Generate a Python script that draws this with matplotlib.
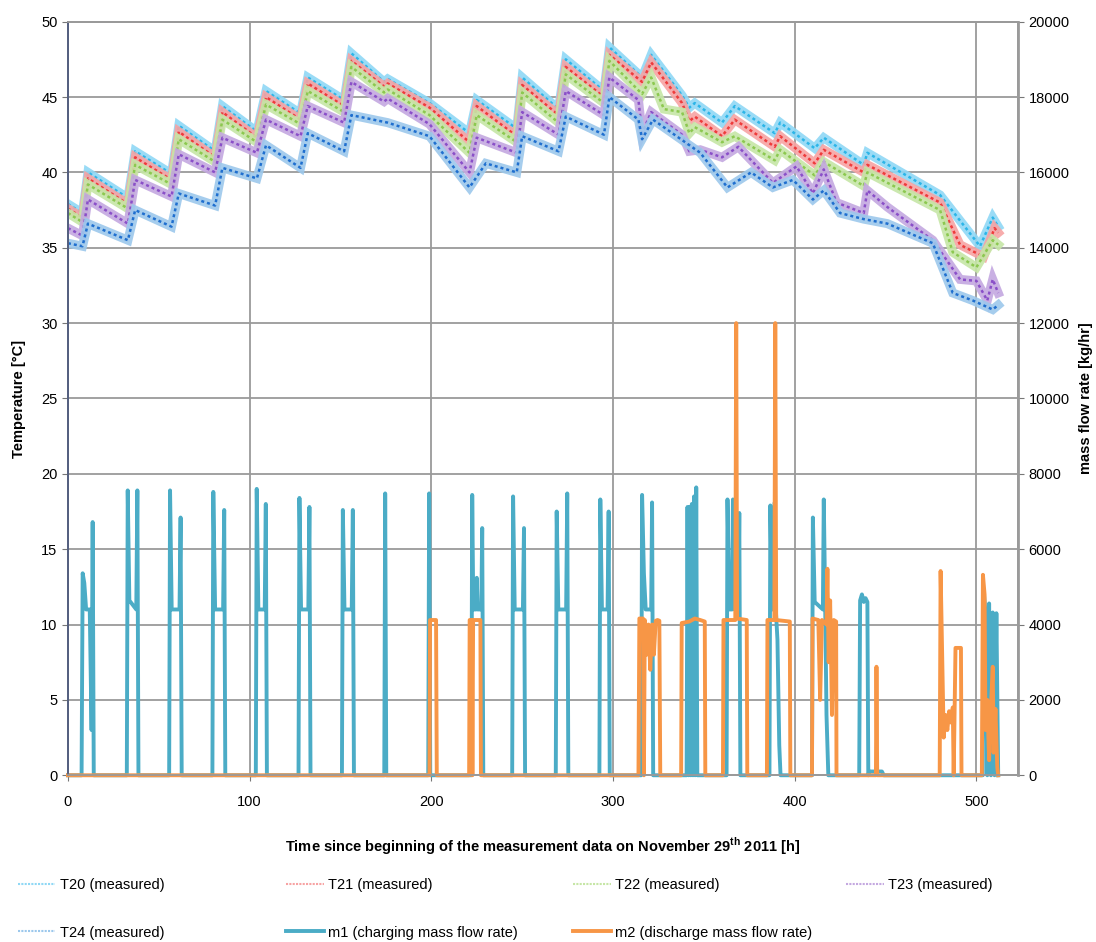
import matplotlib
matplotlib.use("Agg")
import matplotlib.pyplot as plt

plt.rcParams["font.family"] = ["Liberation Sans", "DejaVu Sans"]

# --- temperatures [°C], knots ---
t20_time = [0, 8, 11, 33, 37, 57, 61, 81, 85, 104, 109, 128, 132, 152, 156, 174, 176, 199, 221, 225,
            247, 250, 270, 274, 295, 298, 316, 321, 338, 342, 345, 360, 367, 389, 392, 411, 416, 438,
            440, 480, 502, 509, 512]
t20_temp = [37.9, 37.3, 40.0, 38.3, 41.4, 39.9, 43.1, 41.4, 44.4, 42.7, 45.4, 43.9, 46.3, 44.8, 47.9,
            46.0, 46.2, 44.6, 42.6, 44.8, 42.9, 46.3, 44.2, 47.5, 45.4, 48.3, 46.3, 47.8, 45.1, 44.3,
            44.6, 43.3, 44.4, 42.6, 43.3, 41.6, 42.3, 40.5, 41.3, 38.5, 35.1, 37.0, 36.4]

t21_time = [0, 8, 11, 33, 37, 57, 61, 81, 85, 104, 109, 128, 132, 152, 156, 174, 176, 199, 221, 225,
            247, 250, 270, 274, 295, 298, 316, 321, 338, 342, 345, 360, 367, 389, 392, 411, 416, 438,
            440, 480, 491, 504, 510, 512]
t21_temp = [37.6, 37.0, 39.6, 37.9, 41.0, 39.5, 42.7, 41.0, 44.0, 42.3, 45.0, 43.5, 45.9, 44.4, 47.4,
            45.7, 45.9, 44.3, 42.0, 44.4, 42.4, 45.8, 43.8, 47.0, 45.0, 47.8, 46.0, 47.3, 44.6, 43.4,
            43.7, 42.4, 43.5, 41.7, 42.4, 40.6, 41.5, 40.0, 40.5, 38.0, 35.2, 34.4, 36.3, 36.0]

t22_time = [0, 8, 11, 33, 37, 57, 61, 81, 85, 104, 109, 128, 132, 152, 156, 174, 176, 199, 221, 225,
            247, 250, 270, 274, 295, 298, 316, 321, 328, 338, 342, 345, 360, 367, 389, 392, 411, 416,
            438, 440, 480, 487, 500, 509, 512]
t22_temp = [37.3, 36.7, 39.2, 37.6, 40.5, 39.2, 42.2, 40.7, 43.5, 42.0, 44.5, 43.2, 45.4, 44.0, 47.0,
            45.3, 45.5, 43.8, 41.3, 43.8, 42.0, 45.3, 43.3, 46.5, 44.6, 47.4, 45.2, 46.3, 44.2, 44.0,
            42.6, 43.0, 42.0, 42.4, 40.8, 41.5, 39.8, 40.7, 39.1, 40.0, 37.5, 34.7, 33.7, 35.5, 35.2]

t23_time = [0, 8, 11, 33, 37, 57, 61, 81, 85, 104, 109, 128, 132, 152, 156, 174, 176, 199, 221, 225,
            247, 250, 270, 274, 295, 298, 314, 316, 321, 338, 342, 348, 360, 369, 388, 401, 410, 416,
            423, 438, 440, 451, 476, 491, 500, 506, 509, 512]
t23_temp = [36.3, 35.8, 38.2, 36.6, 39.5, 38.4, 41.2, 40.0, 42.3, 41.3, 43.5, 42.4, 44.4, 43.3, 46.0,
            44.7, 44.9, 43.2, 40.0, 42.3, 41.3, 44.0, 42.5, 45.4, 43.8, 46.3, 44.8, 42.6, 44.0, 42.5,
            41.4, 41.5, 41.0, 41.7, 39.3, 40.4, 38.6, 40.2, 38.0, 37.3, 38.8, 37.7, 35.5, 32.9, 32.8,
            31.5, 32.9, 32.0]

t24_time = [0, 8, 11, 33, 37, 57, 61, 81, 85, 104, 109, 128, 132, 152, 156, 176, 199, 221, 230, 247,
            250, 270, 274, 295, 298, 314, 316, 322, 348, 363, 376, 388, 399, 410, 416, 425, 438, 451,
            476, 487, 498, 509, 512]
t24_temp = [35.3, 35.1, 36.6, 35.5, 37.5, 36.4, 38.6, 37.8, 40.3, 39.6, 41.8, 40.3, 42.6, 41.4, 43.8,
            43.3, 42.4, 39.0, 40.6, 40.0, 42.4, 41.4, 43.7, 42.5, 45.0, 43.5, 42.2, 43.5, 41.3, 39.0,
            40.0, 39.0, 39.5, 38.2, 38.8, 37.3, 36.9, 36.6, 35.3, 32.0, 31.5, 30.9, 31.2]

# --- mass flow rates [kg/hr] ---
m1_time = [0, 7.5, 8.1, 9, 10, 12, 13, 13.6, 14.2,
           32.4, 32.9, 33.8, 37.6, 38.2, 38.8,
           55.7, 56.2, 57.1, 61.4, 62, 62.6,
           79.5, 80, 81, 85.4, 86, 86.6,
           103.4, 103.9, 104.8, 108.3, 108.9, 109.5,
           126.9, 127.4, 128.3, 132.3, 132.9, 133.5,
           150.8, 151.3, 152.2, 156.2, 156.8, 157.4,
           174.1, 174.6, 175.2,
           198.3, 198.8, 199.4,
           222, 222.5, 223.1, 224.5, 225, 225.5, 227.5, 228, 228.6,
           244.5, 245, 245.9, 250.4, 251, 251.6,
           268.5, 269, 269.9, 274.2, 274.8, 275.4,
           292.5, 293, 293.9, 297, 297.6, 298.2,
           315.5, 316, 317, 318, 321, 321.5, 322.1,
           340.5, 341, 341.6, 342.2, 342.8, 343.4, 344, 344.6, 345.2, 345.8, 346.4,
           362.5, 363, 364, 365.5, 366, 367, 369, 369.5, 370.1,
           386.1, 386.6, 387.5, 388.5, 389, 389.6, 390.5, 391.5, 392.2,
           409.5, 410, 411, 415.5, 416, 416.6, 417.5, 418.5,
           435.5, 436, 437, 438, 439, 440, 440.5, 441, 448, 449,
           503.5, 504, 505, 506, 507, 508, 509, 510, 511, 512]
m1_flow = [0, 0, 5360, 5100, 4400, 4400, 1200, 6720, 0,
           0, 7560, 4640, 4400, 7560, 0,
           0, 7560, 4400, 4400, 6840, 0,
           0, 7520, 4400, 4400, 7040, 0,
           0, 7600, 4400, 4400, 7200, 0,
           0, 7360, 4400, 4400, 7120, 0,
           0, 7040, 4400, 4400, 7040, 0,
           0, 7480, 0,
           0, 7480, 0,
           0, 7440, 4400, 4400, 5240, 4400, 4400, 6560, 0,
           0, 7400, 4400, 4400, 6560, 0,
           0, 7000, 4400, 4400, 7480, 0,
           0, 7320, 4400, 4400, 7000, 0,
           0, 7440, 5360, 4400, 4400, 7240, 0,
           0, 7120, 0, 7120, 0, 7200, 0, 7400, 0, 7640, 0,
           0, 7320, 4400, 4400, 7320, 4400, 4400, 6960, 0,
           0, 7160, 4400, 4400, 7240, 4400, 3600, 800, 0,
           0, 6840, 4600, 4400, 7320, 5200, 1600, 0,
           0, 4640, 4800, 4600, 4700, 4600, 0, 100, 100, 0,
           0, 4920, 4320, 0, 4560, 0, 4320, 0, 4300, 0]

m2_time = [0, 199, 199.3, 202.6, 203,
           220.8, 221.1, 222.3, 222.6, 223, 227, 227.3,
           314, 314.5, 316.5, 317, 317.5, 318.5, 319.5, 320.5, 321.5, 322.5, 323.5, 324.5, 325.5, 326,
           337.5, 337.8, 342, 345, 348, 350.5, 350.8,
           360.5, 360.8, 367.3, 367.8, 368.3, 373.6, 373.9,
           384.7, 385, 388.8, 389.3, 389.8, 397.3, 397.6,
           409.5, 409.8, 413, 414, 415, 417.5, 418, 418.7, 419.5, 420.5, 421.5, 422.8, 423,
           444.7, 445, 445.4,
           479.8, 480.3, 481, 482, 483, 484, 485, 486, 487, 487.5, 488.5, 491.5, 491.8,
           503, 503.6, 504.5, 505, 506, 507, 508, 509, 509.5, 510.5, 511.5, 512]
m2_flow = [0, 0, 4120, 4120, 0,
           0, 4120, 4120, 0, 4120, 4120, 0,
           0, 4160, 4160, 0, 4120, 3200, 4000, 2800, 4000, 3200, 4100, 4120, 4100, 0,
           0, 4040, 4080, 4160, 4120, 4080, 0,
           0, 4120, 4120, 12000, 4160, 4120, 0,
           0, 4120, 4120, 12000, 4120, 4080, 0,
           0, 4160, 4120, 2000, 4120, 4000, 5480, 3000, 4640, 1600, 4120, 4080, 0,
           0, 2880, 0,
           0, 5420, 3600, 1000, 1600, 1200, 1700, 1400, 1800, 0, 3380, 3380, 0,
           0, 5320, 4800, 1200, 2000, 400, 1800, 2880, 600, 1760, 200, 0]

series_t = [
    ("T20 (measured)", t20_time, t20_temp, "#8fd8f5", "#2cb5e8"),
    ("T21 (measured)", t21_time, t21_temp, "#f7a3a3", "#ee3b3b"),
    ("T22 (measured)", t22_time, t22_temp, "#c6e6a6", "#8cc850"),
    ("T23 (measured)", t23_time, t23_temp, "#c4a8e0", "#8a4fc8"),
    ("T24 (measured)", t24_time, t24_temp, "#9cc8ec", "#1f6fcf"),
]

fig = plt.figure(figsize=(10.96, 9.42), dpi=100)
ax = fig.add_axes([0.062, 0.177, 0.867, 0.800])
ax2 = ax.twinx()

handles = {}
for label, tt, vv, light, dark in series_t:
    ax.plot(tt, vv, color=light, lw=6.5, alpha=0.9, solid_joinstyle="miter")
    ax.plot(tt, vv, color=dark, lw=1.8, ls=(0, (1.2, 1.2)))
    leg, = ax.plot([], [], color=light, lw=1.5, ls=(0, (1, 0.6)))
    handles[label] = leg

l1, = ax2.plot(m1_time, m1_flow, color="#4bacc6", lw=2.8, clip_on=False)
l2, = ax2.plot(m2_time, m2_flow, color="#f79646", lw=2.8, clip_on=False)

ax.set_xlim(0, 523)
ax.set_ylim(0, 50)
ax2.set_ylim(0, 20000)
ax.set_yticks(range(0, 51, 5))
ax2.set_yticks(range(0, 20001, 2000))
ax.set_xticks(range(0, 501, 100))

ax.grid(True, color="#9a9a9a", lw=1.3)
ax.set_axisbelow(True)
for a in (ax, ax2):
    for s in a.spines.values():
        s.set_color("#9a9a9a")
        s.set_linewidth(1.3)
ax.spines["left"].set_color("#556080")
ax2.spines["left"].set_color("#556080")
ax2.spines["right"].set_linewidth(2)

ax.tick_params(axis="both", labelsize=10.5, length=4, color="#777777")
ax2.tick_params(axis="y", labelsize=10.5, length=4, color="#777777")
ax.tick_params(axis="x", pad=10)

ax.set_ylabel("Temperature [°C]", fontsize=10.5, fontweight="bold")
ax.yaxis.set_label_coords(-0.044, 0.5)
ax2.set_ylabel("mass flow rate [kg/hr]", fontsize=10.5, fontweight="bold")
ax2.yaxis.set_label_coords(1.064, 0.5)
ax.set_xlabel("Time since beginning of the measurement data on November 29$^{\\mathregular{th}}$ 2011 [h]",
              fontsize=10.5, fontweight="bold")
ax.xaxis.set_label_coords(0.5, -0.08)

entries = [
    (handles["T20 (measured)"], "T20 (measured)", 0.016, 0.060),
    (handles["T21 (measured)"], "T21 (measured)", 0.261, 0.060),
    (handles["T22 (measured)"], "T22 (measured)", 0.523, 0.060),
    (handles["T23 (measured)"], "T23 (measured)", 0.772, 0.060),
    (handles["T24 (measured)"], "T24 (measured)", 0.016, 0.010),
    (l1, "m1 (charging mass flow rate)", 0.261, 0.010),
    (l2, "m2 (discharge mass flow rate)", 0.523, 0.010),
]
for h, lab, x, y in entries:
    fig.legend([h], [lab], loc="center left", bbox_to_anchor=(x, y), frameon=False,
               fontsize=10.5, handlelength=2.6, handletextpad=0.3, borderpad=0, borderaxespad=0)

fig.savefig("out.png", dpi=100)
